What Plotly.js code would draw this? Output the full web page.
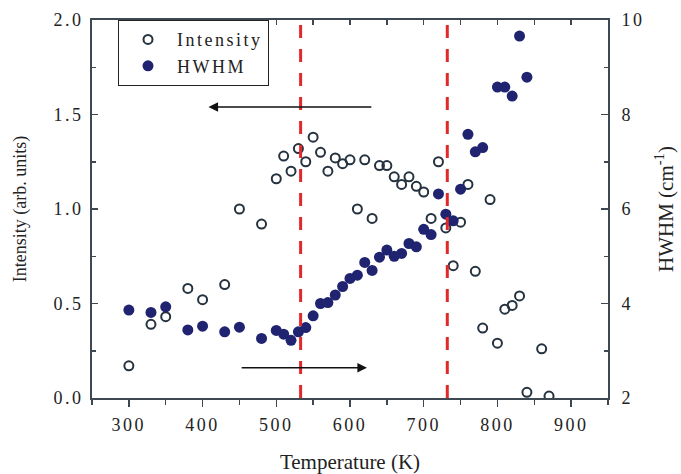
<!DOCTYPE html>
<html>
<head>
<meta charset="utf-8">
<script src="https://cdn.plot.ly/plotly-3.0.1.min.js"></script>
<style>
html,body{margin:0;padding:0;background:#fff;}
#chart{width:681px;height:474px;}
#chart .xtick text, #chart .ytick text, #chart .y2tick text {letter-spacing: 2.5px;}
.legendtext {letter-spacing: 2.5px;}
</style>
</head>
<body>
<div id="chart"></div>
<script>
// Intensity (open circles, left axis)
const intensityT = [300,330,350,380,400,430,450,480,500,510,520,530,540,550,560,570,580,590,600,610,620,630,640,650,660,670,680,690,700,710,720,730,740,750,760,770,780,790,800,810,820,830,840,860,870];
const intensityV = [0.17,0.39,0.43,0.58,0.52,0.60,1.00,0.92,1.16,1.28,1.20,1.32,1.25,1.38,1.30,1.20,1.27,1.24,1.26,1.00,1.26,0.95,1.23,1.23,1.17,1.13,1.17,1.12,1.09,0.95,1.25,0.90,0.70,0.93,1.13,0.67,0.37,1.05,0.29,0.47,0.49,0.54,0.03,0.26,0.01];
// HWHM (filled circles, right axis)
const hwhmT = [300,330,350,380,400,430,450,480,500,510,520,530,540,550,560,570,580,590,600,610,620,630,640,650,660,670,680,690,700,710,720,730,740,750,760,770,780,800,810,820,830,840];
const hwhmV = [3.86,3.81,3.93,3.44,3.52,3.40,3.50,3.26,3.43,3.35,3.22,3.40,3.49,3.74,4.00,4.02,4.18,4.36,4.53,4.60,4.87,4.70,4.98,5.13,5.00,5.06,5.27,5.20,5.57,5.46,6.32,5.89,5.75,6.42,7.58,7.21,7.30,8.58,8.58,8.39,9.66,8.79];
// Transition temperatures (red dashed lines)
const transitionT = [533, 732];
// Arrows: [from T, to T, intensity level]
const arrowLeft = [631, 408, 1.54];
const arrowRight = [451, 623, 0.16];

const FONT = 'Liberation Serif, Times New Roman, serif';
const AX = '#3d4852';
const TXT = '#222';

const traces = [
  {x: intensityT, y: intensityV, type: 'scatter', mode: 'markers', name: 'Intensity',
   marker: {symbol: 'circle-open', size: 9, color: '#25323f', line: {width: 2, color: '#25323f'}}},
  {x: hwhmT, y: hwhmV, type: 'scatter', mode: 'markers', name: 'HWHM', yaxis: 'y2',
   marker: {symbol: 'circle', size: 11, color: '#1f2370'}},
  {x: [250], y: [0], type: 'scatter', mode: 'markers', xaxis: 'x2', showlegend: false,
   marker: {opacity: 0}, hoverinfo: 'skip'}
];

const shapes = transitionT.map(t => ({
  type: 'line', xref: 'x', yref: 'paper', x0: t, x1: t, y0: 0, y1: 1,
  line: {color: '#e3282c', width: 3, dash: '13px,11px'}
}));

const annotations = [arrowLeft, arrowRight].map(a => ({
  x: a[1], y: a[2], ax: a[0], ay: a[2], xref: 'x', yref: 'y', axref: 'x', ayref: 'y',
  text: '', showarrow: true, arrowhead: 2, arrowsize: 1.2, arrowwidth: 1.6, arrowcolor: '#111'
}));

const layout = {
  width: 681, height: 474,
  margin: {l: 92, r: 73, t: 20, b: 76},
  paper_bgcolor: '#fff', plot_bgcolor: '#fff',
  font: {family: FONT, color: TXT, size: 18},
  showlegend: true,
  legend: {x: 0.05, y: 1, xanchor: 'left', yanchor: 'top', bgcolor: '#fff',
           bordercolor: '#222', borderwidth: 1.2, font: {family: FONT, size: 18, color: TXT},
           itemwidth: 48, tracegroupgap: 0},
  xaxis: {range: [250, 950], dtick: 100, tick0: 0, ticks: 'outside', ticklen: 7, tickwidth: 1.5,
          tickcolor: AX, showline: true, linecolor: AX, linewidth: 2, showgrid: false, zeroline: false,
          ticklabelstandoff: 2,
          minor: {dtick: 50, tick0: 0, ticks: 'outside', ticklen: 5, tickwidth: 1.5, tickcolor: AX, showgrid: false},
          tickfont: {family: FONT, size: 18, color: TXT},
          title: {text: 'Temperature (K)', font: {family: FONT, size: 21, color: TXT}, standoff: 23}},
  xaxis2: {range: [250, 950], overlaying: 'x', side: 'top', dtick: 50, tick0: 0, ticks: 'inside',
           ticklen: 5, tickwidth: 1.5, tickcolor: AX, showticklabels: false, showline: true,
           linecolor: AX, linewidth: 2, showgrid: false, zeroline: false},
  yaxis: {range: [0, 2], dtick: 0.5, tickformat: '.1f', ticks: 'inside', ticklen: 6, tickwidth: 1.5,
          tickcolor: AX, showline: true, linecolor: AX, linewidth: 2, showgrid: false, zeroline: false,
          ticklabelstandoff: 3,
          minor: {dtick: 0.25, ticks: 'inside', ticklen: 4, tickwidth: 1.5, tickcolor: AX, showgrid: false},
          tickfont: {family: FONT, size: 18, color: TXT},
          title: {text: 'Intensity (arb. units)', font: {family: FONT, size: 18, color: TXT}, standoff: 30}},
  yaxis2: {range: [2, 10], dtick: 2, overlaying: 'y', side: 'right', ticks: 'inside', ticklen: 7,
           tickwidth: 1.5, tickcolor: AX, showline: true, linecolor: AX, linewidth: 2, showgrid: false,
           zeroline: false, ticklabelstandoff: 8,
           minor: {dtick: 1, ticks: 'inside', ticklen: 4, tickwidth: 1.5, tickcolor: AX, showgrid: false},
           tickfont: {family: FONT, size: 18, color: TXT},
           title: {text: 'HWHM (cm<sup>-1</sup>)', font: {family: FONT, size: 21, color: TXT}, standoff: 20}},
  shapes: shapes,
  annotations: annotations
};

Plotly.newPlot('chart', traces, layout, {displayModeBar: false, staticPlot: true});
</script>
</body>
</html>
